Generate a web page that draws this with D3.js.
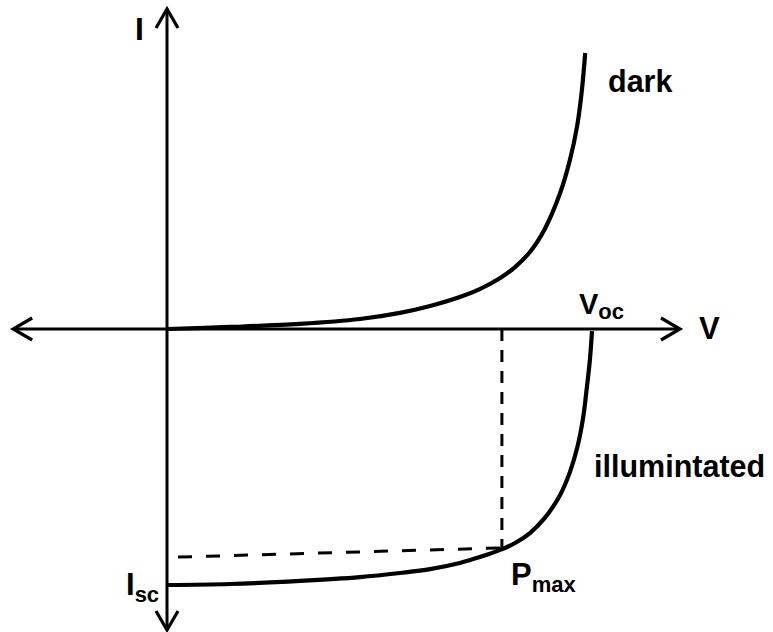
<!DOCTYPE html>
<html><head><meta charset="utf-8">
<script src="https://cdn.jsdelivr.net/npm/d3@7"></script>
<style>html,body{margin:0;padding:0;background:#fff;}svg{display:block;}</style>
</head><body>
<svg id="chart" width="773" height="632"></svg>
<script>
// Data (V normalized to Voc = 1, I normalized to Isc = 1)
const darkV  = [0, 0.148, 0.313, 0.454, 0.548, 0.619, 0.689, 0.736, 0.784, 0.819, 0.854, 0.889, 0.925, 0.948, 0.965, 0.976, 0.984];
const darkI  = [0, 0.008, 0.020, 0.039, 0.063, 0.090, 0.125, 0.156, 0.199, 0.242, 0.301, 0.391, 0.531, 0.660, 0.793, 0.930, 1.078];
const illumV = [0, 0.148, 0.313, 0.454, 0.548, 0.619, 0.689, 0.736, 0.784, 0.819, 0.854, 0.889, 0.925, 0.948, 0.965, 0.979, 0.988, 0.995, 1.0];
const illumI = [-1.000, -0.996, -0.984, -0.969, -0.953, -0.938, -0.914, -0.891, -0.863, -0.836, -0.797, -0.738, -0.648, -0.559, -0.465, -0.348, -0.227, -0.121, -0.008];
const pmaxV = 0.788, pmaxI = -0.855;
const dashStartV = 0.026, dashStartI = -0.891;
const axisV = [-0.362, 1.207];
const axisI = [-1.176, 1.250];

const svg = d3.select("#chart");
const x = d3.scaleLinear().domain([0, 1]).range([167, 592]);
const y = d3.scaleLinear().domain([0, -1]).range([329, 585]);

const defs = svg.append("defs");
defs.append("marker").attr("id","arr").attr("viewBox","-24 -14 28 28")
  .attr("refX",0).attr("refY",0).attr("markerWidth",28).attr("markerHeight",28)
  .attr("markerUnits","userSpaceOnUse").attr("orient","auto-start-reverse")
  .append("path").attr("d","M-19,-11 L0,0 L-19,11").attr("fill","none")
  .attr("stroke","#000").attr("stroke-width",3.2).attr("stroke-linejoin","miter");

// axes
svg.append("line").attr("x1",x(axisV[0])).attr("x2",x(axisV[1])).attr("y1",y(0)).attr("y2",y(0))
  .attr("stroke","#000").attr("stroke-width",3)
  .attr("marker-start","url(#arr)").attr("marker-end","url(#arr)");
svg.append("line").attr("x1",x(0)).attr("x2",x(0)).attr("y1",y(axisI[0])).attr("y2",y(axisI[1]))
  .attr("stroke","#000").attr("stroke-width",3)
  .attr("marker-start","url(#arr)").attr("marker-end","url(#arr)");

const line = d3.line().x(d=>x(d[0])).y(d=>y(d[1])).curve(d3.curveCatmullRom.alpha(0.5));

// dashed lines
svg.append("path").attr("d", d3.line()([[x(pmaxV), y(0)], [x(pmaxV), y(pmaxI)]]))
  .attr("stroke","#000").attr("stroke-width",3).attr("stroke-dasharray","12,9").attr("fill","none");
svg.append("path").attr("d", d3.line()([[x(dashStartV), y(dashStartI)], [x(pmaxV), y(pmaxI)]]))
  .attr("stroke","#000").attr("stroke-width",3).attr("stroke-dasharray","14,14").attr("fill","none");

// curves
svg.append("path").attr("d", line(darkV.map((v,i)=>[v,darkI[i]])))
  .attr("fill","none").attr("stroke","#000").attr("stroke-width",4.2).attr("stroke-linecap","butt");
svg.append("path").attr("d", line(illumV.map((v,i)=>[v,illumI[i]])))
  .attr("fill","none").attr("stroke","#000").attr("stroke-width",4.2).attr("stroke-linecap","butt");

// labels
const font = "'Liberation Sans', Arial, sans-serif";
function label(px, py, main, sub, size, subSize, dy) {
  const t = svg.append("text").attr("x",px).attr("y",py)
    .attr("font-family",font).attr("font-weight","bold").attr("font-size",size).attr("fill","#000");
  t.append("tspan").text(main);
  if (sub) t.append("tspan").attr("font-size",subSize).attr("dy",dy).text(sub);
}
label(135, 40, "I", null, 32);
label(699, 339, "V", null, 31);
label(608, 92, "dark", null, 30.5);
label(594, 477, "illumintated", null, 30.5);
label(579, 314, "V", "oc", 29, 22, 5);
label(126, 595, "I", "sc", 31, 22, 7);
label(511, 585, "P", "max", 31, 22, 7);
</script>
</body></html>
